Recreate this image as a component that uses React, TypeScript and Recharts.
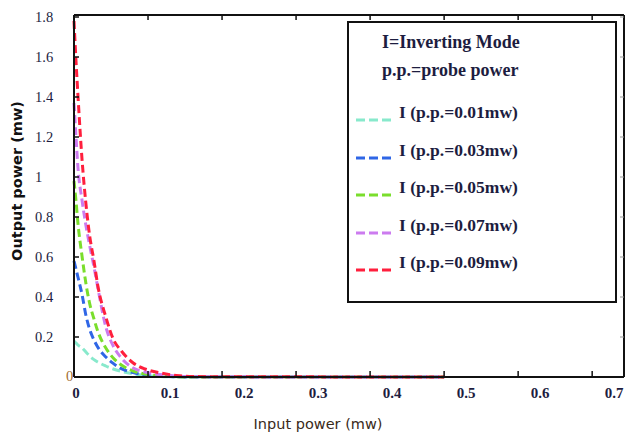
import { LineChart, Line, XAxis, YAxis, Legend } from "recharts";

// input power (mw) where the curves were sampled
const inputPower = [0, 0.0027, 0.0053, 0.011, 0.016, 0.021, 0.027, 0.032, 0.043, 0.053, 0.064, 0.08, 0.096, 0.117, 0.138, 0.16, 0.5];

// output power (mw) for each probe power
const pp001 = [0.18, 0.17, 0.16, 0.145, 0.125, 0.105, 0.087, 0.075, 0.055, 0.04, 0.028, 0.016, 0.008, 0.003, 0.001, 0, 0];
const pp003 = [0.58, 0.54, 0.5, 0.41, 0.31, 0.24, 0.185, 0.15, 0.1, 0.068, 0.042, 0.022, 0.01, 0.004, 0.001, 0, 0];
const pp005 = [0.98, 0.88, 0.77, 0.6, 0.47, 0.37, 0.29, 0.23, 0.145, 0.095, 0.06, 0.03, 0.015, 0.006, 0.002, 0, 0];
const pp007 = [1.37, 1.2, 1.05, 0.88, 0.76, 0.66, 0.55, 0.45, 0.25, 0.155, 0.095, 0.045, 0.025, 0.012, 0.005, 0.001, 0];
const pp009 = [1.78, 1.58, 1.41, 1.08, 0.87, 0.71, 0.58, 0.46, 0.3, 0.19, 0.13, 0.07, 0.04, 0.02, 0.008, 0.002, 0];

const seriesNames = ["I (p.p.=0.01mw)", "I (p.p.=0.03mw)", "I (p.p.=0.05mw)", "I (p.p.=0.07mw)", "I (p.p.=0.09mw)"];
const seriesKeys = ["pp001", "pp003", "pp005", "pp007", "pp009"];
const seriesColors = ["#88e9cc", "#2f66e6", "#7ade2c", "#cc7bef", "#ff1f3d"];

const xTicks = [0, 0.1, 0.2, 0.3, 0.4, 0.5, 0.6, 0.7];
const yTicks = [0, 0.2, 0.4, 0.6, 0.8, 1, 1.2, 1.4, 1.6, 1.8];

const rows = inputPower.map((x, i) => ({
  x,
  pp001: pp001[i],
  pp003: pp003[i],
  pp005: pp005[i],
  pp007: pp007[i],
  pp009: pp009[i],
}));

// plot box (follows from the chart margin and axis sizes below)
const TOP = 15;
const BOTTOM = 377;
const LEFT = 74;
const RIGHT = 624;

const serif = "'Liberation Serif', 'Times New Roman', serif";
const ink = "#1d1d3f";

// tick marks sit on the grid, the printed numbers are shifted right as in the original figure
function XTick(props: any) {
  const { x, y, payload } = props;
  const v = Number(payload.value);
  return (
    <g>
      {v > 0 ? (
        <path d={`M${x},${BOTTOM}V${BOTTOM - 6}M${x},${TOP}V${TOP + 5}`} stroke="#111" strokeWidth={1.5} fill="none" />
      ) : null}
      <text
        x={x + (v > 0 ? 22 : 2)}
        y={y}
        dy="0.75em"
        textAnchor="middle"
        fontFamily={serif}
        fontSize={15}
        fontWeight={700}
        fill={ink}
      >
        {v}
      </text>
    </g>
  );
}

function YTick(props: any) {
  const { y, payload } = props;
  const v = Number(payload.value);
  if (v === 0) {
    return (
      <text x={LEFT - 8} y={y} dy="0.3em" textAnchor="start" fontFamily={serif} fontSize={14.5} fill="#a06a30">
        0
      </text>
    );
  }
  return (
    <g>
      <path d={`M${LEFT},${y}H${LEFT + 5}`} stroke="#111" strokeWidth={1.5} fill="none" />
      <path d={`M${RIGHT},${y}H${RIGHT - 4}`} stroke="#999" strokeWidth={1} fill="none" />
      <text x={35} y={y} dy="0.35em" textAnchor="start" fontFamily={serif} fontSize={14.5} fill={ink}>
        {v}
      </text>
    </g>
  );
}

function LegendBox() {
  return (
    <div
      style={{
        position: "relative",
        width: 270,
        height: 282,
        border: "2px solid #111",
        boxSizing: "border-box",
        background: "#fff",
        fontFamily: serif,
        color: ink,
      }}
    >
      <div style={{ position: "absolute", left: 33, top: 9, fontSize: 18, fontWeight: 700, whiteSpace: "nowrap" }}>
        I=Inverting Mode
      </div>
      <div style={{ position: "absolute", left: 33, top: 37, fontSize: 18, fontWeight: 700, whiteSpace: "nowrap" }}>
        p.p.=probe power
      </div>
      {seriesNames.map((name, i) => (
        <div key={name}>
          <svg style={{ position: "absolute", left: 7, top: 94 + i * 37.5 }} width={36} height={6}>
            <line x1={0} y1={3} x2={36} y2={3} stroke={seriesColors[i]} strokeWidth={3} strokeDasharray="9 4" />
          </svg>
          <div style={{ position: "absolute", left: 50, top: 79 + i * 37.5, fontSize: 17.5, fontWeight: 700, whiteSpace: "nowrap" }}>
            {name}
          </div>
        </div>
      ))}
    </div>
  );
}

function YTitle(props: any) {
  const vb = props.viewBox || { x: 0, y: 15, width: 74, height: 362 };
  const x = vb.x + 17;
  const y = vb.y + vb.height / 2 - 15;
  return (
    <text
      x={x}
      y={y}
      transform={`rotate(-90 ${x} ${y})`}
      textAnchor="middle"
      dominantBaseline="central"
      style={{ fontFamily: "'DejaVu Sans', sans-serif", fontSize: 14.5, fontWeight: 700, fill: "#111" }}
    >
      Output power (mw)
    </text>
  );
}

function XTitle(props: any) {
  const vb = props.viewBox || { x: 74, y: 377, width: 550, height: 58 };
  return (
    <text
      x={vb.x + vb.width / 2 - 31}
      y={vb.y + 47}
      textAnchor="middle"
      dominantBaseline="central"
      style={{ fontFamily: "'DejaVu Sans', sans-serif", fontSize: 14.5, fill: "#3a2a1a" }}
    >
      Input power (mw)
    </text>
  );
}

export default function App() {
  return (
    <div style={{ position: "absolute", left: 0, top: 0, width: 632, height: 435, background: "#fff" }}>
      <LineChart width={632} height={435} data={rows} margin={{ top: TOP, right: 632 - RIGHT, bottom: 0, left: 0 }}>
        <XAxis
          xAxisId="b"
          dataKey="x"
          type="number"
          domain={[0, 0.743]}
          ticks={xTicks}
          interval={0}
          height={58}
          axisLine={{ stroke: "#111", strokeWidth: 2 }}
          tickLine={false}
          tickSize={4}
          tickMargin={6}
          tick={XTick}
          label={XTitle}
        />
        <XAxis
          xAxisId="t"
          dataKey="x"
          orientation="top"
          type="number"
          domain={[0, 0.743]}
          mirror
          axisLine={{ stroke: "#111", strokeWidth: 2 }}
          tick={false}
          tickLine={false}
        />
        <YAxis
          yAxisId="l"
          type="number"
          domain={[0, 1.81]}
          ticks={yTicks}
          interval={0}
          width={LEFT}
          axisLine={{ stroke: "#111", strokeWidth: 2 }}
          tickLine={false}
          tick={YTick}
          label={YTitle}
        />
        <YAxis
          yAxisId="r"
          orientation="right"
          type="number"
          domain={[0, 1.81]}
          mirror
          axisLine={{ stroke: "#111", strokeWidth: 2 }}
          tick={false}
          tickLine={false}
        />
        <Legend
          layout="vertical"
          align="center"
          verticalAlign="middle"
          content={() => <LegendBox />}
          wrapperStyle={{ left: 347, top: 21, width: 270, height: 282 }}
        />
        {seriesKeys.map((key, i) => (
          <Line
            key={key}
            xAxisId="b"
            yAxisId="l"
            dataKey={key}
            name={seriesNames[i]}
            type="monotone"
            stroke={seriesColors[i]}
            strokeWidth={3}
            strokeDasharray="8 4"
            dot={false}
            isAnimationActive={false}
          />
        ))}
      </LineChart>
    </div>
  );
}
